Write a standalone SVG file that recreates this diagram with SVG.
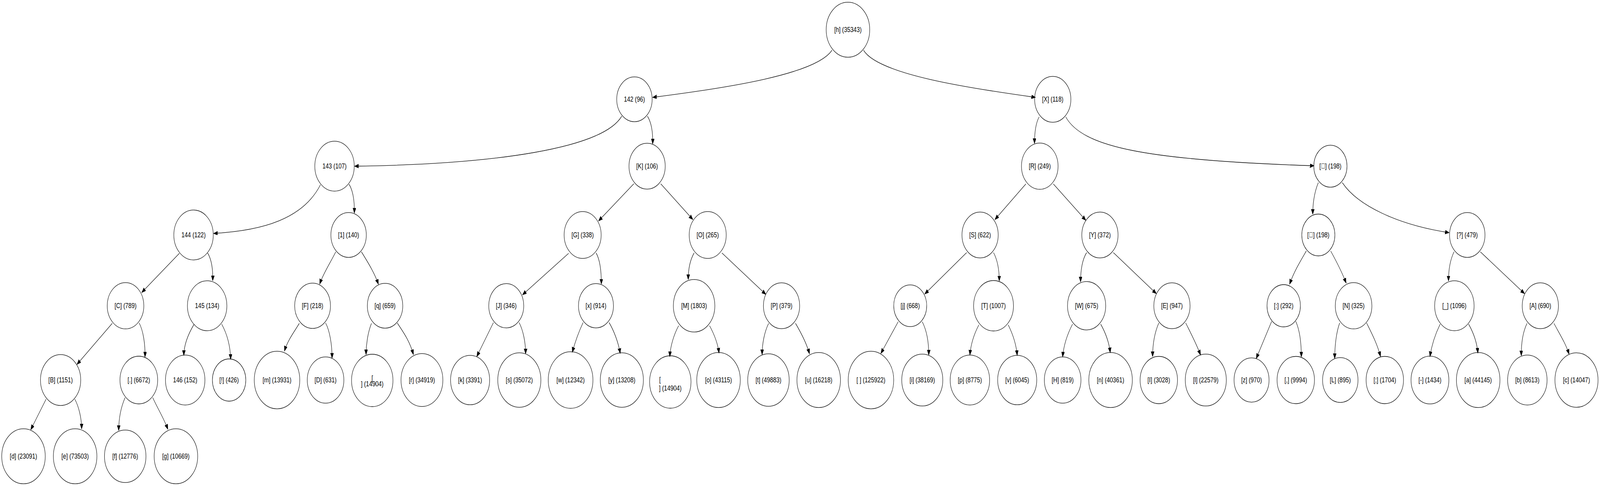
<svg xmlns="http://www.w3.org/2000/svg" width="5175" height="1243" viewBox="0 0 5175 1243" preserveAspectRatio="none">
<style>
:root{width:100%;height:100%}
.n ellipse{fill:none;stroke:#000;stroke-width:1.3}
.n text,text{font-family:"Liberation Sans",Arial,sans-serif;font-size:18.3px;text-anchor:middle;fill:#000}
#edges path{fill:none;stroke:#000;stroke-width:1.3;marker-end:url(#ah)}
</style>
<defs>
<marker id="ah" markerUnits="userSpaceOnUse" markerWidth="14" markerHeight="11" refX="13" refY="5" orient="auto">
<path d="M0,0 L13,5 L0,10 z" fill="#000" stroke="#000" stroke-width="1"/>
</marker>
</defs>
<rect width="5175" height="1243" fill="#fff"/>
<g id="edges">
<path d="M2691,128.5 C2640,190 2350,225 2111,249"/>
<path d="M2793,128.5 C2840,190 3130,225 3349,249"/>
<path d="M2011,297 C1950,380 1600,420 1147,425"/>
<path d="M2094,297 C2108,315 2112,340 2111,368"/>
<path d="M3361,299 C3350,315 3346,340 3346,367"/>
<path d="M3447,299 C3500,375 3700,410 4250,424"/>
<path d="M3318,470.5 L3218,561.5"/>
<path d="M3407,470.5 L3512,563.5"/>
<path d="M1036.5,472.5 C980,560 850,590 691,597"/>
<path d="M1129,471 C1143,490 1147,515 1146,545"/>
<path d="M580,648 L458.5,748"/>
<path d="M671.6,647 C685,665 689,690 688,718"/>
<path d="M363,827 L249,932"/>
<path d="M450,826 C463,845 470,880 469,913"/>
<path d="M628,829 C612,850 595,880 594.5,909"/>
<path d="M717,829 C735,855 745,885 746,919"/>
<path d="M149,1021 L99.5,1099"/>
<path d="M242,1021 C255,1040 264,1070 264,1097"/>
<path d="M404.6,1017 C392,1040 384,1070 384,1101"/>
<path d="M494,1017 C510,1045 530,1070 543,1098"/>
<path d="M1086,644 C1070,670 1045,700 1034,726.5"/>
<path d="M1169,644 C1185,665 1210,695 1224,727"/>
<path d="M968,827 C955,845 930,870 920,898"/>
<path d="M1053,826 C1066,845 1074,880 1074,916"/>
<path d="M1201.5,827 C1190,850 1184,880 1184,907"/>
<path d="M1285,826 C1300,845 1325,870 1337,907"/>
<path d="M2050,470 L1936,565"/>
<path d="M2137,470 L2241,561.5"/>
<path d="M1839,648 L1690,754"/>
<path d="M1928,647 C1941,665 1945,695 1945,726.5"/>
<path d="M2245,647 C2232,665 2226,690 2226,715"/>
<path d="M2335,647 L2477,753"/>
<path d="M1596,825 L1542,912"/>
<path d="M1679,825 C1692,845 1700,875 1700,905"/>
<path d="M1886,825 C1874,845 1860,875 1851,901"/>
<path d="M1970,825 C1985,845 2000,875 2006,904"/>
<path d="M2195,833 C2180,855 2168,885 2166.4,912"/>
<path d="M2295,833 C2310,855 2322,880 2325.6,903"/>
<path d="M2486,827 C2472,850 2465,880 2465,907"/>
<path d="M2573,827 C2590,850 2610,880 2618,905"/>
<path d="M3126.5,646 L2991,752"/>
<path d="M3213.5,646 C3226,665 3232,690 3232,718.5"/>
<path d="M3514.5,646 C3500,665 3495,690 3495,721"/>
<path d="M3601,646 L3740,751"/>
<path d="M2905,823 L2849,904"/>
<path d="M2983,823 C2997,845 3004,875 3004,908"/>
<path d="M3166,831 C3150,855 3140,880 3137,908"/>
<path d="M3261,831 C3276,855 3287,880 3290,909"/>
<path d="M3469,829 C3452,855 3440,885 3437,913"/>
<path d="M3560,829 C3575,850 3587,875 3591,902"/>
<path d="M3748,826 C3735,850 3728,880 3728,912"/>
<path d="M3835,826 C3850,850 3870,880 3883,908"/>
<path d="M4264,467 C4252,490 4246,515 4246,548"/>
<path d="M4341.5,467 C4390,525 4520,575 4687,595"/>
<path d="M4225,642 C4208,665 4185,695 4171,727"/>
<path d="M4304,642 C4320,665 4340,695 4354,724"/>
<path d="M4703,644 C4690,665 4685,690 4685,718.5"/>
<path d="M4788,644 L4931,751"/>
<path d="M4113,822 L4063,917"/>
<path d="M4191,822 C4204,845 4209,875 4209,913"/>
<path d="M4333,826 C4322,850 4317,885 4317,917"/>
<path d="M4420,826 C4435,850 4455,880 4465,912"/>
<path d="M4658,829 C4642,855 4630,885 4625,912"/>
<path d="M4750,829 C4765,850 4777,875 4780,903"/>
<path d="M4939,827 C4925,850 4920,880 4920.5,910"/>
<path d="M5026,827 C5045,855 5065,880 5075,906"/>
</g>
<g id="n_h" class="n"><ellipse cx="2742.6" cy="76" rx="70.4" ry="70.4"/><text x="2742.6" y="82.5">[h] (35343)</text></g>
<g id="n_142" class="n"><ellipse cx="2052" cy="254" rx="57.3" ry="57.3"/><text x="2052" y="260.5">142 (96)</text></g>
<g id="n_X" class="n"><ellipse cx="3405" cy="254" rx="58.6" ry="58.6"/><text x="3405" y="260.5">[X] (118)</text></g>
<g id="n_143" class="n"><ellipse cx="1082" cy="425" rx="63.8" ry="63.8"/><text x="1082" y="431.5">143 (107)</text></g>
<g id="n_K" class="n"><ellipse cx="2093" cy="425" rx="58.6" ry="58.6"/><text x="2093" y="431.5">[K] (106)</text></g>
<g id="n_R" class="n"><ellipse cx="3363" cy="425" rx="59.2" ry="59.2"/><text x="3363" y="431.5">[R] (249)</text></g>
<g id="n_u1" class="n"><ellipse cx="4303" cy="425" rx="53.7" ry="53.7"/><text x="4303" y="431.5">[&#xE000;] (198)</text></g>
<g id="n_144" class="n"><ellipse cx="626" cy="601" rx="63.8" ry="63.8"/><text x="626" y="607.5">144 (122)</text></g>
<g id="n_1" class="n"><ellipse cx="1127.5" cy="601" rx="57.3" ry="57.3"/><text x="1127.5" y="607.5">[1] (140)</text></g>
<g id="n_G" class="n"><ellipse cx="1884.5" cy="601" rx="59.9" ry="59.9"/><text x="1884.5" y="607.5">[G] (338)</text></g>
<g id="n_O" class="n"><ellipse cx="2289" cy="601" rx="59.9" ry="59.9"/><text x="2289" y="607.5">[O] (265)</text></g>
<g id="n_S" class="n"><ellipse cx="3170" cy="601" rx="58.6" ry="58.6"/><text x="3170" y="607.5">[S] (622)</text></g>
<g id="n_Y" class="n"><ellipse cx="3557.6" cy="601" rx="58.6" ry="58.6"/><text x="3557.6" y="607.5">[Y] (372)</text></g>
<g id="n_u2" class="n"><ellipse cx="4264" cy="601" rx="53.5" ry="53.5"/><text x="4264" y="607.5">[&#xE000;] (198)</text></g>
<g id="n_q2" class="n"><ellipse cx="4745.7" cy="601" rx="57.3" ry="57.3"/><text x="4745.7" y="607.5">[?] (479)</text></g>
<g id="n_C" class="n"><ellipse cx="406" cy="782" rx="59.2" ry="59.2"/><text x="406" y="788.5">[C] (789)</text></g>
<g id="n_145" class="n"><ellipse cx="670" cy="782" rx="63.8" ry="63.8"/><text x="670" y="788.5">145 (134)</text></g>
<g id="n_F" class="n"><ellipse cx="1011" cy="782" rx="57.9" ry="57.9"/><text x="1011" y="788.5">[F] (218)</text></g>
<g id="n_q" class="n"><ellipse cx="1245.4" cy="782" rx="57.3" ry="57.3"/><text x="1245.4" y="788.5">[q] (659)</text></g>
<g id="n_J" class="n"><ellipse cx="1637.4" cy="782" rx="56.6" ry="56.6"/><text x="1637.4" y="788.5">[J] (346)</text></g>
<g id="n_x" class="n"><ellipse cx="1927.6" cy="782" rx="56.6" ry="56.6"/><text x="1927.6" y="788.5">[x] (914)</text></g>
<g id="n_M" class="n"><ellipse cx="2245" cy="782" rx="67.1" ry="67.1"/><text x="2245" y="788.5">[M] (1803)</text></g>
<g id="n_P" class="n"><ellipse cx="2527.8" cy="782" rx="58.6" ry="58.6"/><text x="2527.8" y="788.5">[P] (379)</text></g>
<g id="n_j" class="n"><ellipse cx="2944" cy="782" rx="53.3" ry="53.3"/><text x="2944" y="788.5">[j] (668)</text></g>
<g id="n_T" class="n"><ellipse cx="3213.5" cy="782" rx="64.5" ry="64.5"/><text x="3213.5" y="788.5">[T] (1007)</text></g>
<g id="n_W" class="n"><ellipse cx="3514.5" cy="782" rx="61.8" ry="61.8"/><text x="3514.5" y="788.5">[W] (675)</text></g>
<g id="n_E" class="n"><ellipse cx="3790.5" cy="782" rx="58.6" ry="58.6"/><text x="3790.5" y="788.5">[E] (947)</text></g>
<g id="n_colon" class="n"><ellipse cx="4152" cy="782" rx="54" ry="54"/><text x="4152" y="788.5">[:] (292)</text></g>
<g id="n_N" class="n"><ellipse cx="4378" cy="782" rx="59.2" ry="59.2"/><text x="4378" y="788.5">[N] (325)</text></g>
<g id="n_us" class="n"><ellipse cx="4704" cy="782" rx="63.8" ry="63.8"/><text x="4704" y="788.5">[_] (1096)</text></g>
<g id="n_A" class="n"><ellipse cx="4982" cy="782" rx="58.6" ry="58.6"/><text x="4982" y="788.5">[A] (690)</text></g>
<g id="n_B" class="n"><ellipse cx="196" cy="972" rx="65.1" ry="65.1"/><text x="196" y="978.5">[B] (1151)</text></g>
<g id="n_dot" class="n"><ellipse cx="449" cy="972" rx="61" ry="61"/><text x="449" y="978.5">[.] (6672)</text></g>
<g id="n_146" class="n"><ellipse cx="599" cy="972" rx="63.8" ry="63.8"/><text x="599" y="978.5">146 (152)</text></g>
<g id="n_excl" class="n"><ellipse cx="741" cy="972" rx="54" ry="54"/><text x="741" y="978.5">[!] (426)</text></g>
<g id="n_m" class="n"><ellipse cx="896" cy="972" rx="73.6" ry="73.6"/><text x="896" y="978.5">[m] (13931)</text></g>
<g id="n_D" class="n"><ellipse cx="1053" cy="972" rx="59.2" ry="59.2"/><text x="1053" y="978.5">[D] (631)</text></g>
<g id="n_lf" class="n"><ellipse cx="1204" cy="973" rx="67" ry="67"/><text x="1204" y="973">[</text><text x="1204" y="988">] (14904)</text></g>
<g id="n_r" class="n"><ellipse cx="1364.7" cy="972" rx="67.7" ry="67.7"/><text x="1364.7" y="978.5">[r] (34919)</text></g>
<g id="n_k" class="n"><ellipse cx="1520.5" cy="972" rx="63.2" ry="63.2"/><text x="1520.5" y="978.5">[k] (3391)</text></g>
<g id="n_s" class="n"><ellipse cx="1679.7" cy="972" rx="69.7" ry="69.7"/><text x="1679.7" y="978.5">[s] (35072)</text></g>
<g id="n_w" class="n"><ellipse cx="1845.5" cy="972" rx="72.3" ry="72.3"/><text x="1845.5" y="978.5">[w] (12342)</text></g>
<g id="n_y" class="n"><ellipse cx="2011.3" cy="972" rx="69.7" ry="69.7"/><text x="2011.3" y="978.5">[y] (13208)</text></g>
<g id="n_cr" class="n"><ellipse cx="2168" cy="977" rx="67" ry="67"/><text x="2132" y="977" style="text-anchor:start">[</text><text x="2168" y="999.5">] (14904)</text></g>
<g id="n_o" class="n"><ellipse cx="2324" cy="972" rx="70.4" ry="70.4"/><text x="2324" y="978.5">[o] (43115)</text></g>
<g id="n_t" class="n"><ellipse cx="2485.5" cy="972" rx="67.1" ry="67.1"/><text x="2485.5" y="978.5">[t] (49883)</text></g>
<g id="n_u" class="n"><ellipse cx="2648" cy="972" rx="70.4" ry="70.4"/><text x="2648" y="978.5">[u] (16218)</text></g>
<g id="n_sp" class="n"><ellipse cx="2817" cy="972" rx="73.6" ry="73.6"/><text x="2817" y="978.5">[ ] (125922)</text></g>
<g id="n_i" class="n"><ellipse cx="2983" cy="972" rx="66.4" ry="66.4"/><text x="2983" y="978.5">[i] (38169)</text></g>
<g id="n_p" class="n"><ellipse cx="3137" cy="972" rx="63.8" ry="63.8"/><text x="3137" y="978.5">[p] (8775)</text></g>
<g id="n_v" class="n"><ellipse cx="3290" cy="972" rx="63.2" ry="63.2"/><text x="3290" y="978.5">[v] (6045)</text></g>
<g id="n_H" class="n"><ellipse cx="3437" cy="972" rx="59.2" ry="59.2"/><text x="3437" y="978.5">[H] (819)</text></g>
<g id="n_n" class="n"><ellipse cx="3592" cy="972" rx="70.4" ry="70.4"/><text x="3592" y="978.5">[n] (40361)</text></g>
<g id="n_I" class="n"><ellipse cx="3748" cy="972" rx="60.5" ry="60.5"/><text x="3748" y="978.5">[I] (3028)</text></g>
<g id="n_l" class="n"><ellipse cx="3900" cy="972" rx="66.4" ry="66.4"/><text x="3900" y="978.5">[l] (22579)</text></g>
<g id="n_z" class="n"><ellipse cx="4048" cy="972" rx="56.6" ry="56.6"/><text x="4048" y="978.5">[z] (970)</text></g>
<g id="n_comma" class="n"><ellipse cx="4191" cy="972" rx="60.5" ry="60.5"/><text x="4191" y="978.5">[,] (9994)</text></g>
<g id="n_L" class="n"><ellipse cx="4335" cy="972" rx="57.3" ry="57.3"/><text x="4335" y="978.5">[L] (895)</text></g>
<g id="n_semi" class="n"><ellipse cx="4479" cy="972" rx="60.5" ry="60.5"/><text x="4479" y="978.5">[;] (1704)</text></g>
<g id="n_dash" class="n"><ellipse cx="4625" cy="972" rx="61.2" ry="61.2"/><text x="4625" y="978.5">[-] (1434)</text></g>
<g id="n_a" class="n"><ellipse cx="4781" cy="972" rx="70.4" ry="70.4"/><text x="4781" y="978.5">[a] (44145)</text></g>
<g id="n_b" class="n"><ellipse cx="4940" cy="972" rx="63.8" ry="63.8"/><text x="4940" y="978.5">[b] (8613)</text></g>
<g id="n_c" class="n"><ellipse cx="5099" cy="972" rx="69.7" ry="69.7"/><text x="5099" y="978.5">[c] (14047)</text></g>
<g id="n_d" class="n"><ellipse cx="76" cy="1167" rx="70.4" ry="70.4"/><text x="76" y="1173.5">[d] (23091)</text></g>
<g id="n_e" class="n"><ellipse cx="243" cy="1167" rx="70.4" ry="70.4"/><text x="243" y="1173.5">[e] (73503)</text></g>
<g id="n_f" class="n"><ellipse cx="405" cy="1167" rx="67.1" ry="67.1"/><text x="405" y="1173.5">[f] (12776)</text></g>
<g id="n_g" class="n"><ellipse cx="569" cy="1167" rx="70.4" ry="70.4"/><text x="569" y="1173.5">[g] (10669)</text></g>
</svg>
